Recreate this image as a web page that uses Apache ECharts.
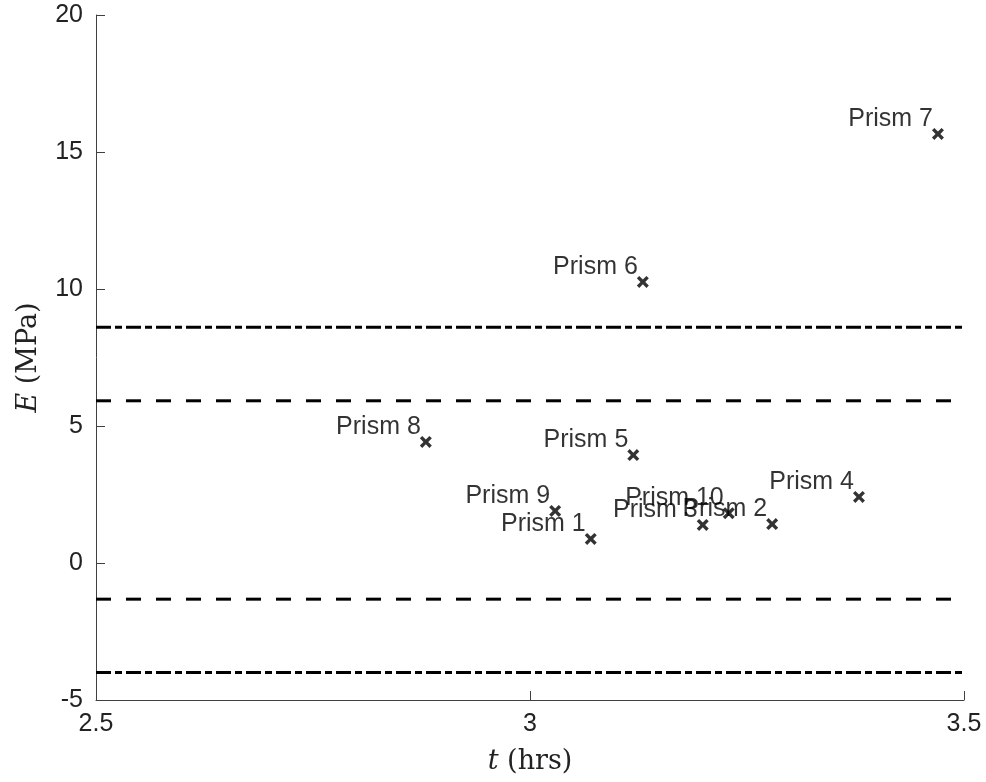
<!DOCTYPE html>
<html>
<head>
<meta charset="utf-8">
<script src="https://cdn.jsdelivr.net/npm/echarts@6/dist/echarts.min.js"></script>
<style>
  html, body { margin: 0; padding: 0; background: #fff; }
  #chart { width: 986px; height: 782px; }
</style>
</head>
<body>
<div id="chart"></div>
<script>
// prism measurements
const prismNames = ['Prism 1', 'Prism 2', 'Prism 3', 'Prism 4', 'Prism 5', 'Prism 6', 'Prism 7', 'Prism 8', 'Prism 9', 'Prism 10']
const prismT = [3.070, 3.279, 3.199, 3.379, 3.119, 3.130, 3.470, 2.880, 3.029, 3.229]
const prismE = [0.88, 1.42, 1.39, 2.41, 3.94, 10.26, 15.66, 4.42, 1.90, 1.82]

// horizontal limit lines
const dashedLevels = [5.92, -1.32]
const dashDotLevels = [8.60, -4.00]
const tRange = [2.5, 3.5]

// bold "x" marker
const crossPath = 'path://M0,2L2,0L5,3L8,0L10,2L7,5L10,8L8,10L5,7L2,10L0,8L3,5Z'

let myChart = echarts.init(document.getElementById('chart'))

function levelSeries(v, dash) {
  return {
    type: 'line',
    data: [[tRange[0], v], [tRange[1], v]],
    showSymbol: false,
    silent: true,
    lineStyle: { color: '#000', width: 3, type: dash },
    z: 1
  }
}

let series = []
dashedLevels.forEach(function (v) { series.push(levelSeries(v, [15, 15])) })
dashDotLevels.forEach(function (v) { series.push(levelSeries(v, [15, 4, 7, 4])) })

series.push({
  type: 'scatter',
  symbol: crossPath,
  symbolSize: 12,
  itemStyle: { color: '#000' },
  data: prismT.map(function (t, i) {
    return { name: prismNames[i], value: [t, prismE[i]] }
  }),
  label: {
    show: true,
    position: 'left',
    distance: 5,
    offset: [6, -15],
    formatter: '{b}',
    color: '#000',
    fontFamily: 'Liberation Sans, Arial, sans-serif',
    fontSize: 25
  },
  z: 3
})

const titleFont = 'DejaVu Serif, serif'

let option = {
  animation: false,
  grid: { left: 96, right: 22, top: 15, bottom: 82 },
  xAxis: {
    type: 'value',
    min: 2.5,
    max: 3.5,
    interval: 0.5,
    name: '{i|t} (hrs)',
    nameLocation: 'middle',
    nameGap: 48,
    nameTextStyle: {
      fontFamily: titleFont,
      fontSize: 27,
      color: '#222',
      rich: { i: { fontFamily: titleFont, fontStyle: 'italic', fontSize: 27, color: '#222' } }
    },
    splitLine: { show: false },
    axisLine: { onZero: false, lineStyle: { color: '#404040', width: 1 } },
    axisTick: { inside: true, length: 9, lineStyle: { color: '#404040' } },
    axisLabel: {
      margin: 12,
      color: '#222',
      fontFamily: 'Liberation Sans, Arial, sans-serif',
      fontSize: 25,
      formatter: function (v) { return String(v) }
    }
  },
  yAxis: {
    type: 'value',
    min: -5,
    max: 20,
    interval: 5,
    name: '{i|E} (MPa)',
    nameLocation: 'middle',
    nameGap: 54,
    nameTextStyle: {
      fontFamily: titleFont,
      fontSize: 27,
      color: '#222',
      rich: { i: { fontFamily: titleFont, fontStyle: 'italic', fontSize: 27, color: '#222' } }
    },
    splitLine: { show: false },
    axisLine: { show: true, onZero: false, lineStyle: { color: '#404040', width: 1 } },
    axisTick: { show: true, inside: true, length: 9, lineStyle: { color: '#404040' } },
    axisLabel: {
      margin: 13,
      color: '#222',
      fontFamily: 'Liberation Sans, Arial, sans-serif',
      fontSize: 25
    }
  },
  series: series
}

myChart.setOption(option)
</script>
</body>
</html>
